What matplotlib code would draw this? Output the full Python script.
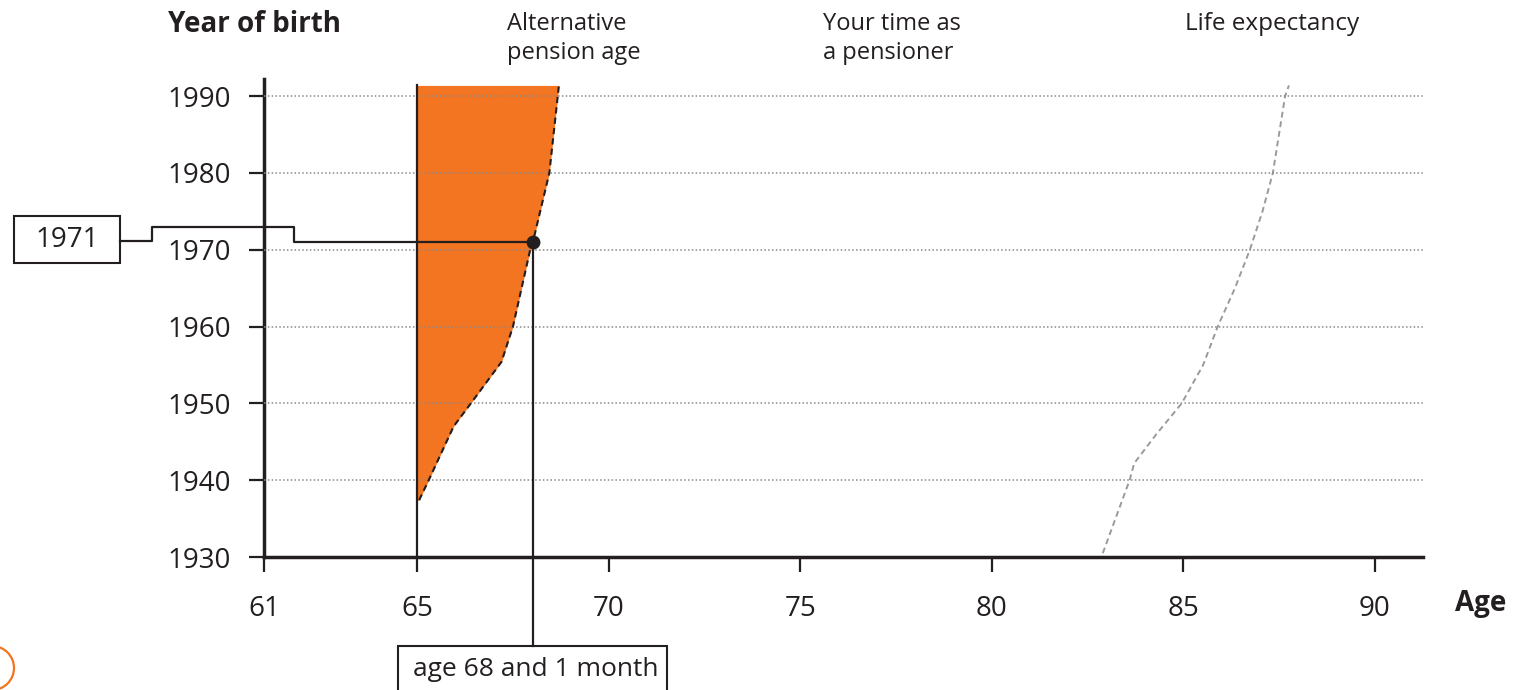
import numpy as np
import matplotlib.pyplot as plt
from matplotlib.patches import Rectangle, Ellipse

plt.rcParams['font.family'] = ['Open Sans', 'DejaVu Sans']

# axis ticks
years = [1930, 1940, 1950, 1960, 1970, 1980, 1990]
ages = [61, 65, 70, 75, 80, 85, 90]

# alternative pension age (right edge of orange band)
apa_year = [1937.4, 1940, 1947, 1950, 1955.4, 1960, 1970, 1971, 1980, 1991.4]
apa_age = [65.05, 65.3, 65.95, 66.4, 67.2, 67.5, 67.95, 68.02, 68.45, 68.7]

# life expectancy
le_year = [1930.5, 1940, 1942.2, 1946, 1950, 1955, 1960, 1965, 1970, 1975, 1980, 1985, 1990, 1991.4]
le_age = [82.9, 83.6, 83.72, 84.3, 84.96, 85.52, 85.9, 86.35, 86.74, 87.07, 87.34, 87.5, 87.66, 87.76]

state_age = 65
your_year = 1971
your_age = 68.02
your_label = 'age 68 and 1 month'

W, H = 1519, 690
ink = '#231f20'
orange = '#f37421'

fig = plt.figure(figsize=(W/100, H/100), dpi=100)
ax = fig.add_axes([264/W, 1-557/H, (1422.6-264)/W, (557-78.5)/H])
ax.set_xlim(61, 91.25)
ax.set_ylim(1930, 1992.3)

def to_data(px, py):
    return ax.transData.inverted().transform((px, H - py))

def fx(px):
    return px / W

def fy(py):
    return 1 - py / H

ax.fill_betweenx(apa_year, state_age, apa_age, color=orange, lw=0, zorder=2)
ax.plot(apa_age, apa_year, color=ink, ls=(0, (3, 2)), lw=1.5, zorder=4)
ax.plot([state_age, state_age], [years[0], apa_year[-1]], color=ink, lw=1.6, zorder=4)
ax.plot(le_age, le_year, color='#9a9a9a', ls=(0, (3, 2)), lw=1.4, zorder=3)
for y in years[1:]:
    ax.axhline(y, color='#8a8a8a', ls=(0, (1, 1.5)), lw=1.1, zorder=3)

# your point and connectors
ax.plot(your_age, your_year, 'o', color=ink, ms=9, zorder=6)
bx, by = to_data(531.7, 646)
ax.plot([your_age, your_age], [your_year, by], color=ink, lw=1.6, clip_on=False, zorder=5)
p = [to_data(294, 227.3), to_data(152, 227.3)]
k1 = to_data(152, 240.5)
k2 = to_data(120, 240.5)
ax.plot([your_age, p[0][0], p[0][0], p[1][0], p[1][0], k2[0]],
        [your_year, your_year, p[0][1], p[1][1], k1[1], k1[1]],
        color=ink, lw=1.6, clip_on=False, zorder=5)

fig.add_artist(Rectangle((fx(14), fy(263)), (120-14)/W, (263-216)/H,
                         transform=fig.transFigure, fill=False, ec=ink, lw=1.5))
fig.text(fx(67), fy(240), str(your_year), ha='center', va='center', fontsize=20, color=ink)
fig.add_artist(Rectangle((fx(398), fy(700)), (667-398)/W, (700-646)/H,
                         transform=fig.transFigure, fill=False, ec=ink, lw=1.5))
fig.text(fx(536), fy(670), your_label, ha='center', va='center', fontsize=19, color=ink)
fig.add_artist(Ellipse((fx(-8), fy(668)), 44/W, 44/H, transform=fig.transFigure,
                       fill=False, ec=orange, lw=1.6))

# axes styling
for s in ['top', 'right']:
    ax.spines[s].set_visible(False)
for s in ['left', 'bottom']:
    ax.spines[s].set_linewidth(2.5)
    ax.spines[s].set_color(ink)
ax.set_yticks(years)
ax.set_xticks(ages)
ax.tick_params(axis='both', direction='out', length=11, width=1.6, color=ink,
               labelsize=20, labelcolor=ink)
ax.tick_params(axis='y', pad=13)
ax.tick_params(axis='x', pad=16)

# headings
fig.text(fx(168), fy(25), 'Year of birth', fontsize=20, fontweight='bold', va='center', color=ink)
fig.text(fx(507), fy(24), 'Alternative', fontsize=17, va='center', color=ink)
fig.text(fx(507), fy(53), 'pension age', fontsize=17, va='center', color=ink)
fig.text(fx(823), fy(24), 'Your time as', fontsize=17, va='center', color=ink)
fig.text(fx(823), fy(53), 'a pensioner', fontsize=17, va='center', color=ink)
fig.text(fx(1185), fy(24), 'Life expectancy', fontsize=17.5, va='center', color=ink)
fig.text(fx(1455), fy(603), 'Age', fontsize=20, fontweight='bold', va='center', color=ink)

fig.savefig('out.png', dpi=100)
